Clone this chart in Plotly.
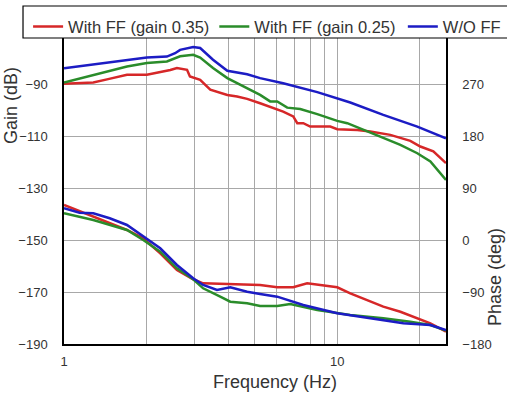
import plotly.graph_objects as go

# ---- data ----
gain_red_f = [1.0, 1.28, 1.45, 1.60, 1.70, 2.01, 2.25, 2.45, 2.59, 2.82, 2.89, 3.15, 3.43, 3.96, 4.30, 4.68, 5.22,
              5.68, 6.34, 6.90, 7.14, 7.51, 7.96, 9.43, 10.0, 11.84, 13.21, 15.64, 18.51, 20.14, 22.47, 25.0]
gain_red = [-89.6, -89.1, -87.8, -86.8, -86.1, -86.1, -85.1, -84.3, -83.5, -84.2, -86.8, -88.1, -91.9, -93.9, -94.5,
            -95.4, -97.1, -98.4, -100.3, -102.2, -104.8, -104.8, -106.1, -106.1, -107.1, -107.4, -108.0, -109.3,
            -111.6, -113.8, -115.7, -120.2]

gain_green_f = [1.0, 1.28, 1.70, 2.01, 2.38, 2.66, 2.97, 3.15, 3.51, 3.96, 4.68, 5.22, 5.68, 6.03, 6.56, 7.32,
                8.45, 10.0, 10.88, 12.88, 14.74, 17.02, 19.63, 21.92, 25.0]
gain_green = [-89.1, -86.1, -82.9, -81.6, -81.0, -79.0, -78.4, -79.5, -83.5, -87.4, -91.3, -93.9, -96.4, -96.4,
              -98.8, -99.3, -101.3, -103.9, -104.8, -108.0, -110.6, -113.2, -116.4, -119.6, -126.7]

gain_blue_f = [1.0, 1.4, 1.7, 2.01, 2.38, 2.55, 2.66, 2.97, 3.15, 3.51, 3.96, 4.68, 5.22, 6.34, 8.45, 11.16,
               14.74, 19.63, 25.0]
gain_blue = [-83.6, -81.5, -80.3, -79.5, -79.1, -77.8, -76.5, -75.4, -75.8, -80.3, -84.6, -85.9, -87.4, -89.4,
             -92.8, -96.8, -101.6, -106.1, -110.6]

phase_red_f = [1.0, 1.28, 1.70, 1.95, 2.25, 2.59, 2.97, 3.23, 3.96, 5.22, 6.03, 6.90, 7.76, 8.66, 10.0, 11.16,
               12.88, 14.74, 17.02, 19.63, 21.92, 25.0]
phase_red = [61.4, 41.1, 18.0, 3.6, -22.5, -51.5, -67.6, -74.6, -75.8, -77.5, -81.5, -81.5, -74.6, -77.5, -81.5,
             -92.0, -103.6, -115.2, -124.0, -135.4, -144.0, -158.6]

phase_green_f = [1.0, 1.28, 1.70, 1.95, 2.25, 2.59, 2.97, 3.23, 3.73, 4.06, 4.68, 5.22, 6.03, 6.73, 8.45, 11.16,
                 14.74, 18.51, 21.92, 25.0]
phase_green = [47.0, 35.4, 18.0, 0.6, -19.7, -48.5, -67.6, -83.3, -97.8, -106.5, -109.3, -114.0, -114.0, -110.5,
               -121.0, -129.6, -135.4, -141.3, -147.0, -156.9]

phase_blue_f = [1.0, 1.14, 1.28, 1.47, 1.70, 1.95, 2.25, 2.59, 2.97, 3.23, 3.63, 4.06, 4.68, 5.22, 6.03, 7.51,
                10.0, 13.21, 17.45, 21.92, 25.0]
phase_blue = [55.7, 48.0, 47.0, 38.3, 26.7, 6.4, -13.8, -42.8, -65.9, -77.5, -86.2, -81.5, -89.2, -93.2, -97.8,
              -112.3, -126.7, -135.4, -144.0, -147.0, -155.7]

names = ["With FF (gain 0.35)", "With FF (gain 0.25)", "W/O FF"]
colors = ["#d62728", "#2a8c2a", "#1c1cc4"]
legend_ids = ["legend", "legend", "legend2"]

x_ticks = [1, 10]
x_minor = [2, 3, 4, 5, 6, 7, 8, 9, 20]
gain_ticks = [-190, -170, -150, -130, -110, -90]
phase_ticks = [-180, -90, 0, 90, 180, 270]

FONT = "Liberation Sans, Arial, sans-serif"
TXT = "#333333"
GRID = "#a8a8a8"

fig = go.Figure()
gain_sets = [(gain_red_f, gain_red), (gain_green_f, gain_green), (gain_blue_f, gain_blue)]
phase_sets = [(phase_red_f, phase_red), (phase_green_f, phase_green), (phase_blue_f, phase_blue)]
for i in range(3):
    fig.add_trace(go.Scatter(x=gain_sets[i][0], y=gain_sets[i][1], mode="lines", name=names[i],
                             line=dict(color=colors[i], width=2.5), legendgroup=names[i],
                             legend=legend_ids[i]))
for i in range(3):
    fig.add_trace(go.Scatter(x=phase_sets[i][0], y=phase_sets[i][1], mode="lines", name=names[i],
                             line=dict(color=colors[i], width=2.5), yaxis="y2", showlegend=False,
                             legendgroup=names[i], legend=legend_ids[i]))

leg_common = dict(orientation="h", yanchor="middle", y=1.02, xanchor="left",
                  bgcolor="rgba(0,0,0,0)", borderwidth=0, font=dict(size=16.5, color=TXT),
                  itemwidth=30, tracegroupgap=0)

fig.update_layout(
    template="none",
    width=507, height=399,
    margin=dict(l=64, r=61, t=33, b=55, pad=0, autoexpand=False),
    paper_bgcolor="white", plot_bgcolor="white",
    font=dict(family=FONT, size=13, color=TXT),
    showlegend=True,
    legend=dict(x=-0.094, **leg_common),
    legend2=dict(x=0.887, **leg_common),
    xaxis=dict(type="log", range=[0, 1.398], tickvals=x_ticks, ticktext=["1", "10"],
               showgrid=True, gridcolor=GRID, gridwidth=1,
               minor=dict(tickvals=x_minor, showgrid=True, gridcolor=GRID, gridwidth=1, ticks=""),
               showline=True, linecolor="black", linewidth=1.5, mirror=True, automargin=False,
               ticks="", ticklabelstandoff=5, tickfont=dict(size=13, color=TXT), zeroline=False),
    yaxis=dict(range=[-190, -70], tickvals=gain_ticks, showgrid=True, gridcolor=GRID, gridwidth=1,
               showline=True, linecolor="black", linewidth=1.5, ticks="", ticklabelstandoff=12,
               automargin=False, tickfont=dict(size=13, color=TXT), zeroline=False),
    yaxis2=dict(range=[-180, 360], tickvals=phase_ticks, overlaying="y", side="right", showgrid=False,
                showline=True, linecolor="black", linewidth=1.5, ticks="", ticklabelstandoff=12,
                automargin=False, tickfont=dict(size=13, color=TXT), zeroline=False),
    shapes=[dict(type="rect", xref="paper", yref="paper", x0=-0.1073, x1=1.3, y0=0.984, y1=1.0868,
                 line=dict(color="black", width=1.2), fillcolor="white", layer="above")],
    annotations=[
        dict(text="Gain (dB)", xref="paper", yref="paper", x=(11 - 64) / 382, y=(344 - 106) / 311,
             textangle=-90, showarrow=False, font=dict(size=18, color=TXT), xanchor="center", yanchor="middle"),
        dict(text="Phase (deg)", xref="paper", yref="paper", x=(495 - 64) / 382, y=(344 - 277) / 311,
             textangle=-90, showarrow=False, font=dict(size=18, color=TXT), xanchor="center", yanchor="middle"),
        dict(text="Frequency (Hz)", xref="paper", yref="paper", x=(275 - 64) / 382, y=(344 - 382) / 311,
             showarrow=False, font=dict(size=18, color=TXT), xanchor="center", yanchor="middle"),
    ],
)

fig.write_html("out.html", config={"displayModeBar": False},
               post_script="document.body.style.margin='0px';")
